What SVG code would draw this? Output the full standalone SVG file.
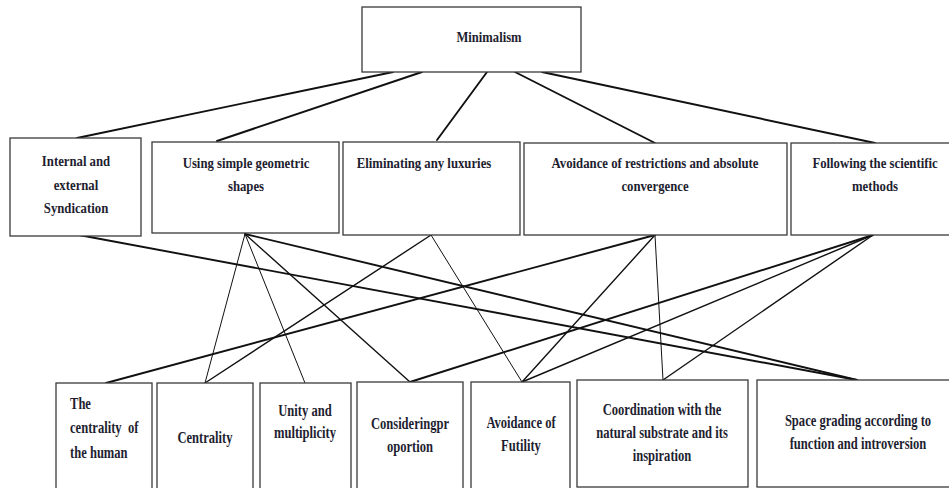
<svg xmlns="http://www.w3.org/2000/svg" width="949" height="488" viewBox="0 0 949 488">
<style>
.box{fill:#fff;stroke:#3a3a3a;stroke-width:1.3}
.t{font-family:"Liberation Serif","Times New Roman",serif;font-weight:bold;fill:#1e1e30;text-anchor:middle}
.top{font-size:15px}
.bot{font-size:17px}
.l{text-anchor:start}
.c{stroke:#111;fill:none;stroke-linecap:round}
.k{stroke-width:1.9}
.m{stroke-width:1.4}
.n{stroke-width:1}
</style>
<rect width="949" height="488" fill="#fff"/>
<g id="connectors">
<line class="c k" x1="393" y1="72" x2="77" y2="138"/>
<line class="c k" x1="422" y1="72" x2="217" y2="141"/>
<line class="c k" x1="487" y1="72" x2="437" y2="140"/>
<line class="c k" x1="515" y1="72" x2="655" y2="143"/>
<line class="c k" x1="542" y1="72" x2="875" y2="143"/>
<line class="c k" x1="79" y1="235" x2="857" y2="380"/>
<line class="c k" x1="245" y1="234" x2="857" y2="380"/>
<line class="c n" x1="245" y1="234" x2="205" y2="383"/>
<line class="c n" x1="245" y1="234" x2="305" y2="383"/>
<line class="c m" x1="245" y1="234" x2="410" y2="382"/>
<line class="c m" x1="431" y1="235" x2="205" y2="383"/>
<line class="c n" x1="431" y1="235" x2="522" y2="382"/>
<line class="c k" x1="655" y1="235" x2="106" y2="383"/>
<line class="c m" x1="655" y1="235" x2="522" y2="382"/>
<line class="c n" x1="655" y1="235" x2="663" y2="380"/>
<line class="c k" x1="873" y1="235" x2="410" y2="382"/>
<line class="c m" x1="873" y1="235" x2="522" y2="382"/>
<line class="c m" x1="873" y1="235" x2="663" y2="380"/>
</g>
<g id="minimalism">
<rect class="box" x="362" y="7" width="219" height="65"/>
<text class="t top" transform="translate(489,42) scale(0.84,1)">Minimalism</text>
</g>
<g id="internal">
<rect class="box" x="10" y="138" width="131" height="98"/>
<text class="t top" transform="translate(76,166) scale(0.85,1)">Internal and</text>
<text class="t top" transform="translate(76,190) scale(0.85,1)">external</text>
<text class="t top" transform="translate(76,213) scale(0.85,1)">Syndication</text>
</g>
<g id="geometric">
<rect class="box" x="152" y="142" width="187" height="91"/>
<text class="t top" transform="translate(246,168) scale(0.85,1)">Using simple geometric</text>
<text class="t top" transform="translate(246,191) scale(0.85,1)">shapes</text>
</g>
<g id="luxuries">
<rect class="box" x="343" y="142" width="177" height="93"/>
<text class="t top" transform="translate(424,168) scale(0.85,1)">Eliminating any luxuries</text>
</g>
<g id="restrictions">
<rect class="box" x="524" y="143" width="263" height="92"/>
<text class="t top" transform="translate(655,168) scale(0.85,1)">Avoidance of restrictions and absolute</text>
<text class="t top" transform="translate(655,191) scale(0.85,1)">convergence</text>
</g>
<g id="scientific">
<rect class="box" x="791" y="143" width="162" height="92"/>
<text class="t top" transform="translate(875,168) scale(0.85,1)">Following the scientific</text>
<text class="t top" transform="translate(875,191) scale(0.85,1)">methods</text>
</g>
<g id="human">
<rect class="box" x="56" y="383" width="96" height="110"/>
<text class="t bot l" transform="translate(70,409) scale(0.74,1)">The</text>
<text class="t bot l" xml:space="preserve" transform="translate(70,433) scale(0.74,1)">centrality  of</text>
<text class="t bot l" transform="translate(70,458) scale(0.74,1)">the human</text>
</g>
<g id="centrality">
<rect class="box" x="157" y="383" width="96" height="110"/>
<text class="t bot" transform="translate(205,443) scale(0.74,1)">Centrality</text>
</g>
<g id="unity">
<rect class="box" x="260" y="383" width="91" height="110"/>
<text class="t bot" transform="translate(305,416) scale(0.74,1)">Unity and</text>
<text class="t bot" transform="translate(305,438) scale(0.74,1)">multiplicity</text>
</g>
<g id="proportion">
<rect class="box" x="357" y="382" width="106" height="111"/>
<text class="t bot" transform="translate(410,429) scale(0.74,1)">Consideringpr</text>
<text class="t bot" transform="translate(410,452) scale(0.74,1)">oportion</text>
</g>
<g id="futility">
<rect class="box" x="471" y="382" width="99" height="111"/>
<text class="t bot" transform="translate(521,428) scale(0.74,1)">Avoidance of</text>
<text class="t bot" transform="translate(521,451) scale(0.74,1)">Futility</text>
</g>
<g id="coordination">
<rect class="box" x="577" y="380" width="171" height="107"/>
<text class="t bot" transform="translate(662,415) scale(0.74,1)">Coordination with the</text>
<text class="t bot" transform="translate(662,438) scale(0.74,1)">natural substrate and its</text>
<text class="t bot" transform="translate(662,461) scale(0.74,1)">inspiration</text>
</g>
<g id="spacegrading">
<rect class="box" x="757" y="380" width="196" height="107"/>
<text class="t bot" transform="translate(858,426) scale(0.74,1)">Space grading according to</text>
<text class="t bot" transform="translate(858,449) scale(0.74,1)">function and introversion</text>
</g>
</svg>
